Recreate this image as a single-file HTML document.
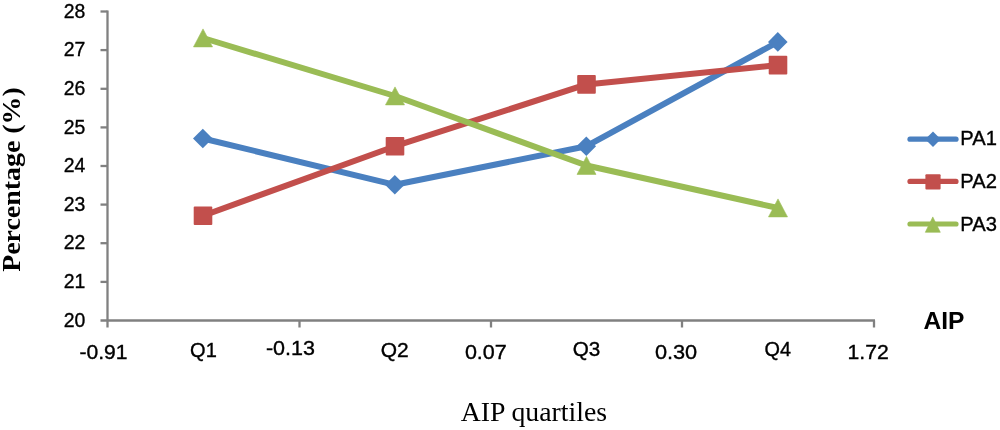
<!DOCTYPE html>
<html><head><meta charset="utf-8"><title>AIP quartiles</title>
<style>
html,body{margin:0;padding:0;background:#fff}
svg{display:block}
text{font-family:"Liberation Sans",sans-serif;fill:#000;stroke:#000;stroke-width:.35px}
.s,.b{stroke:none}
.s{font-family:"Liberation Serif",serif}
</style></head><body>
<svg width="1000" height="430" viewBox="0 0 1000 430">
<rect width="1000" height="430" fill="#fff"/>
<g stroke="#808080" stroke-width="2.3" fill="none">
<path d="M107.5 10.5V327.5"/>
<path d="M100.5 320.5H875"/>
<path d="M100.5 281.9H107.5"/>
<path d="M100.5 243.2H107.5"/>
<path d="M100.5 204.6H107.5"/>
<path d="M100.5 166.0H107.5"/>
<path d="M100.5 127.4H107.5"/>
<path d="M100.5 88.8H107.5"/>
<path d="M100.5 50.1H107.5"/>
<path d="M100.5 11.5H107.5"/>
<path d="M299.5 320.5V327.5"/>
<path d="M491 320.5V327.5"/>
<path d="M682 320.5V327.5"/>
<path d="M874 320.5V327.5"/>
</g>
<text x="85.3" y="326.7" font-size="20" text-anchor="end" textLength="21.6" lengthAdjust="spacingAndGlyphs">20</text>
<text x="85.3" y="288.1" font-size="20" text-anchor="end" textLength="21.6" lengthAdjust="spacingAndGlyphs">21</text>
<text x="85.3" y="249.4" font-size="20" text-anchor="end" textLength="21.6" lengthAdjust="spacingAndGlyphs">22</text>
<text x="85.3" y="210.8" font-size="20" text-anchor="end" textLength="21.6" lengthAdjust="spacingAndGlyphs">23</text>
<text x="85.3" y="172.2" font-size="20" text-anchor="end" textLength="21.6" lengthAdjust="spacingAndGlyphs">24</text>
<text x="85.3" y="133.6" font-size="20" text-anchor="end" textLength="21.6" lengthAdjust="spacingAndGlyphs">25</text>
<text x="85.3" y="95.0" font-size="20" text-anchor="end" textLength="21.6" lengthAdjust="spacingAndGlyphs">26</text>
<text x="85.3" y="56.3" font-size="20" text-anchor="end" textLength="21.6" lengthAdjust="spacingAndGlyphs">27</text>
<text x="85.3" y="17.7" font-size="20" text-anchor="end" textLength="21.6" lengthAdjust="spacingAndGlyphs">28</text>
<text x="79.4" y="358.6" font-size="20" textLength="48.1" lengthAdjust="spacingAndGlyphs">-0.91</text>
<text x="190.1" y="356.7" font-size="20" textLength="26.7" lengthAdjust="spacingAndGlyphs">Q1</text>
<text x="265.9" y="354.9" font-size="20" textLength="49.0" lengthAdjust="spacingAndGlyphs">-0.13</text>
<text x="380.8" y="356.7" font-size="20" textLength="28.0" lengthAdjust="spacingAndGlyphs">Q2</text>
<text x="464.9" y="359.1" font-size="20" textLength="41.9" lengthAdjust="spacingAndGlyphs">0.07</text>
<text x="572.7" y="356.3" font-size="20" textLength="27.6" lengthAdjust="spacingAndGlyphs">Q3</text>
<text x="654.9" y="359.1" font-size="20" textLength="42.3" lengthAdjust="spacingAndGlyphs">0.30</text>
<text x="764.6" y="356.3" font-size="20" textLength="26.5" lengthAdjust="spacingAndGlyphs">Q4</text>
<text x="847.5" y="359.4" font-size="20" textLength="41.2" lengthAdjust="spacingAndGlyphs">1.72</text>
<polyline points="203.0,138.5 395.0,184.8 586.5,146.2 778.0,41.9" fill="none" stroke="#4a80c0" stroke-width="6.0" stroke-linejoin="round" stroke-linecap="round"/>
<path d="M193.0 138.5L202.8 128.7L212.6 138.5L202.8 148.3Z" fill="#4a80c0"/>
<path d="M385.0 184.8L394.8 175.0L404.6 184.8L394.8 194.6Z" fill="#4a80c0"/>
<path d="M576.5 146.2L586.3 136.4L596.1 146.2L586.3 156.0Z" fill="#4a80c0"/>
<path d="M768.0 41.9L777.8 32.1L787.6 41.9L777.8 51.7Z" fill="#4a80c0"/>
<polyline points="203.0,215.7 395.0,146.2 586.5,84.4 778.0,65.1" fill="none" stroke="#c24f4c" stroke-width="6.0" stroke-linejoin="round" stroke-linecap="round"/>
<rect x="193.7" y="206.4" width="18.6" height="18.6" rx="1" fill="#c24f4c"/>
<rect x="385.7" y="136.9" width="18.6" height="18.6" rx="1" fill="#c24f4c"/>
<rect x="577.2" y="75.1" width="18.6" height="18.6" rx="1" fill="#c24f4c"/>
<rect x="768.7" y="55.8" width="18.6" height="18.6" rx="1" fill="#c24f4c"/>
<polyline points="203.0,38.0 395.0,96.0 586.5,165.5 778.0,208.0" fill="none" stroke="#9abc55" stroke-width="6.0" stroke-linejoin="round" stroke-linecap="round"/>
<path d="M203.0 28.9L212.5 46.9L193.5 46.9Z" fill="#9abc55" stroke="#9abc55" stroke-width="0.6" stroke-linejoin="round"/>
<path d="M395.0 86.9L404.5 104.9L385.5 104.9Z" fill="#9abc55" stroke="#9abc55" stroke-width="0.6" stroke-linejoin="round"/>
<path d="M586.5 156.4L596.0 174.4L577.0 174.4Z" fill="#9abc55" stroke="#9abc55" stroke-width="0.6" stroke-linejoin="round"/>
<path d="M778.0 198.9L787.5 216.9L768.5 216.9Z" fill="#9abc55" stroke="#9abc55" stroke-width="0.6" stroke-linejoin="round"/>
<path d="M910 139.2H956" stroke="#4a80c0" stroke-width="5.2" stroke-linecap="round"/>
<path d="M925.2 139.2L933.0 131.4L940.8 139.2L933.0 147.0Z" fill="#4a80c0"/>
<text x="960.3" y="145.4" font-size="20" textLength="36.6" lengthAdjust="spacingAndGlyphs">PA1</text>
<path d="M910 181.4H956" stroke="#c24f4c" stroke-width="5.2" stroke-linecap="round"/>
<rect x="925.4" y="174.3" width="15.2" height="15.2" rx="1" fill="#c24f4c"/>
<text x="960.3" y="188.0" font-size="20" textLength="36.6" lengthAdjust="spacingAndGlyphs">PA2</text>
<path d="M910 224.0H956" stroke="#9abc55" stroke-width="5.2" stroke-linecap="round"/>
<path d="M932.8 216.9L940.3 232.3L925.3 232.3Z" fill="#9abc55" stroke="#9abc55" stroke-width="0.6" stroke-linejoin="round"/>
<text x="960.3" y="230.7" font-size="20" textLength="36.6" lengthAdjust="spacingAndGlyphs">PA3</text>
<text class="b" x="923.5" y="329" font-size="23.4" font-weight="bold" textLength="41" lengthAdjust="spacingAndGlyphs">AIP</text>
<text class="s" x="460.8" y="420.5" font-size="27" textLength="146.3" lengthAdjust="spacingAndGlyphs">AIP quartiles</text>
<text class="s" transform="translate(20.3 271.8) rotate(-90)" font-size="25.6" font-weight="bold" textLength="184.5" lengthAdjust="spacingAndGlyphs">Percentage (%)</text>
</svg></body></html>
